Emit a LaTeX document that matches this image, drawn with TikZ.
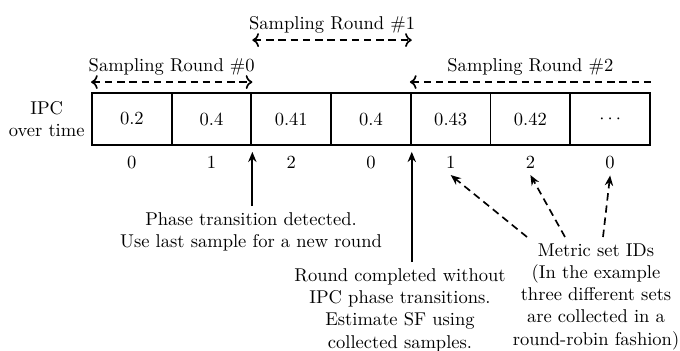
\documentclass[tikz,border=0pt]{standalone}
\usepackage{tikz}
\usetikzlibrary{arrows.meta,calc}

\begin{document}
\begin{tikzpicture}[x=0.54pt,y=-0.54pt,
    cell/.style={draw,line width=1pt,minimum width=43.04pt,minimum height=28.08pt,inner sep=0pt},
    note/.style={align=center,inner sep=3.33pt},
    roundarrow/.style={line width=0.9pt,dash pattern=on 4pt off 2.6pt},
    uparrow/.style={line width=1pt,-{Stealth[length=5.5pt,width=4.5pt]},shorten >=3.2pt},
    idarrow/.style={line width=0.9pt,dash pattern=on 4pt off 2.6pt,-{Stealth[length=5.5pt,width=4.5pt]}}]
\useasboundingbox (0,0) rectangle (680,350);
% IPC samples and metric set IDs
\foreach \v/\m [count=\i] in {0.2/0, 0.4/1, 0.41/2, 0.4/0, 0.43/1, 0.42/2, $\cdots$/0} {
    \node[cell] (c\i) at ({92+79.71*(\i-0.5)},119) {\v};
    \node[below=2pt] (id\i) at (c\i.south) {\m};
}
\node[note,anchor=east] (ipc) at (c1.west) {IPC\\over time};
% Sampling rounds
\draw[roundarrow,<->] ($(c1.north west)+(0,-10)$) -- ($(c2.north east)+(0,-10)$)
    node[midway,above] (r0) {Sampling Round \#0};
\draw[roundarrow,<->] ($(c2.north east)+(0,-52)$) -- ($(c4.north east)+(0,-52)$)
    node[midway,above] (r1) {Sampling Round \#1};
\draw[roundarrow,<-] ($(c5.north west)+(0,-10)$) -- ($(c7.north east)+(0,-10)$)
    node[midway,above] (r2) {Sampling Round \#2};
% Notes below the samples
\node[note,anchor=north] (phase) at (251,206) {Phase transition detected.\\Use last sample for a new round};
\node[note,anchor=north] (done) at (400,262) {Round completed without\\IPC phase transitions.\\Estimate SF using\\collected samples.};
\node[note,anchor=north] (metric) at (596,237) {Metric set IDs\\(In the example\\three different sets\\are collected in a\\round-robin fashion)};
\draw[uparrow] (c2.south east |- phase.north) -- (c2.south east);
\draw[uparrow] (c4.south east |- done.north) -- (c4.south east);
\draw[idarrow] ($(metric.north)+(-69,0)$) -- (id5.south);
\draw[idarrow] ($(metric.north)+(-31,0)$) -- (id6.south);
\draw[idarrow] ($(metric.north)+(7,0)$) -- (id7.south);
\end{tikzpicture}
\end{document}
